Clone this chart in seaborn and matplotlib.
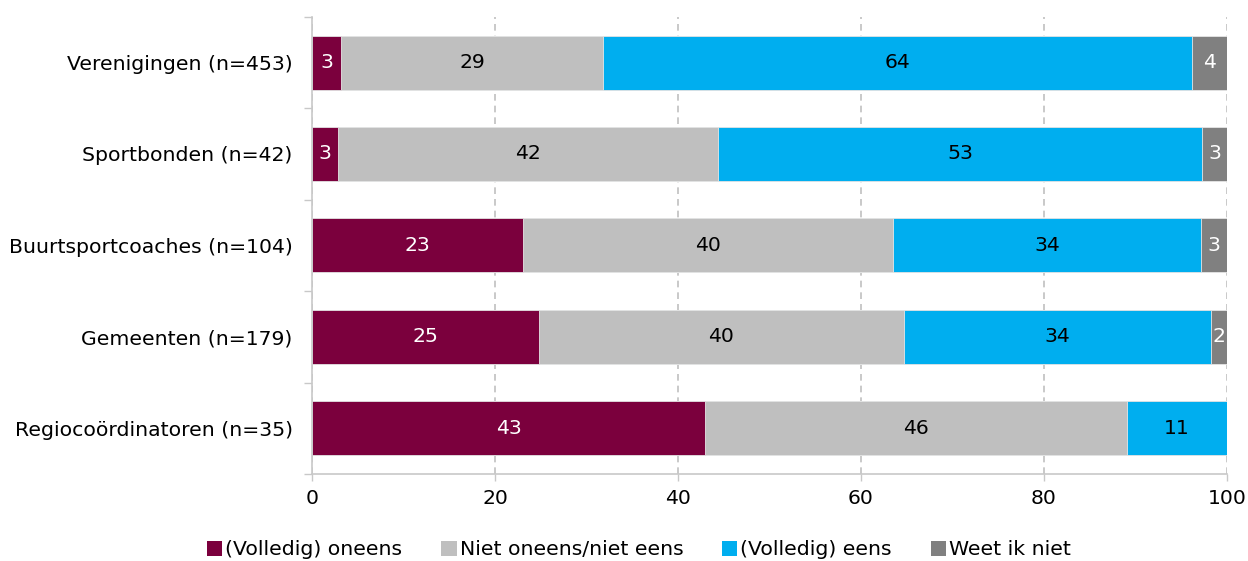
import matplotlib
matplotlib.use("Agg")
import matplotlib.pyplot as plt
import seaborn as sns
import numpy as np
import pandas as pd
from matplotlib.patches import Patch
from matplotlib.ticker import MultipleLocator, FixedLocator

categories = ["Verenigingen (n=453)", "Sportbonden (n=42)", "Buurtsportcoaches (n=104)",
              "Gemeenten (n=179)", "Regiocoördinatoren (n=35)"]
series_names = ["(Volledig) oneens", "Niet oneens/niet eens", "(Volledig) eens", "Weet ik niet"]
oneens = [3.2, 2.8, 23.1, 24.8, 43.0]
neutraal = [28.6, 41.6, 40.4, 39.9, 46.1]
eens = [64.4, 52.9, 33.7, 33.6, 10.9]
weet_niet = [3.8, 2.7, 2.8, 1.7, 0.0]
colors = ["#7B003D", "#BFBFBF", "#00AEEF", "#808080"]
text_colors = ["white", "black", "black", "white"]

sns.set_theme(style="white")
plt.rcParams['font.family'] = ['DejaVu Sans']
plt.rcParams['text.color'] = 'black'
plt.rcParams['xtick.labelcolor'] = 'black'
plt.rcParams['ytick.labelcolor'] = 'black'

FS = 14.7

fig = plt.figure(figsize=(12.48, 5.61), dpi=100)
ax = fig.add_axes([0.25, 0.155, 0.733, 0.815])

values = [oneens, neutraal, eens, weet_niet]
cum = np.cumsum(np.array(values), axis=0)

for i in range(len(values) - 1, -1, -1):
    df = pd.DataFrame({"cat": categories, "val": cum[i]})
    sns.barplot(data=df, x="val", y="cat", orient="h", color=colors[i],
                width=0.59, ax=ax, saturation=1, edgecolor="#e6e6e6", linewidth=0.6)

for i, vals in enumerate(values):
    starts = cum[i] - np.array(vals)
    for j, v in enumerate(vals):
        if v <= 0:
            continue
        ax.text(starts[j] + v / 2, j, f"{int(round(v))}", ha="center", va="center",
                color=text_colors[i], fontsize=FS)

ax.set_xlim(0, 100)
ax.set_ylim(4.5, -0.5)
ax.set_xlabel("")
ax.set_ylabel("")
ax.xaxis.set_major_locator(MultipleLocator(20))
ax.tick_params(axis="x", labelsize=FS, length=5, width=1, direction="out",
               bottom=True, color="#c8c8c8", labelcolor="black", pad=6)
ax.tick_params(axis="y", which="major", labelsize=FS, length=0, pad=14, labelcolor="black")
ax.yaxis.set_minor_locator(FixedLocator([-0.5, 0.5, 1.5, 2.5, 3.5, 4.5]))
ax.tick_params(axis="y", which="minor", left=True, length=6, width=1, color="#c8c8c8")

ax.grid(axis="x", color="#c0c0c0", linestyle=(0, (4, 3)), linewidth=1.2)
ax.grid(axis="y", visible=False)
ax.set_axisbelow(True)
for s in ["top", "right"]:
    ax.spines[s].set_visible(False)
for s in ["left", "bottom"]:
    ax.spines[s].set_color("#c8c8c8")
    ax.spines[s].set_linewidth(1.2)

handles = [Patch(facecolor=c, edgecolor="none") for c in colors]
leg = fig.legend(handles, series_names, loc="lower center", bbox_to_anchor=(0.512, -0.03), ncol=4,
                 frameon=False, fontsize=FS, handlelength=0.75, handleheight=0.75,
                 handletextpad=0.15, columnspacing=1.9)
for t in leg.get_texts():
    t.set_color("black")

fig.savefig("out.png", dpi=100)
